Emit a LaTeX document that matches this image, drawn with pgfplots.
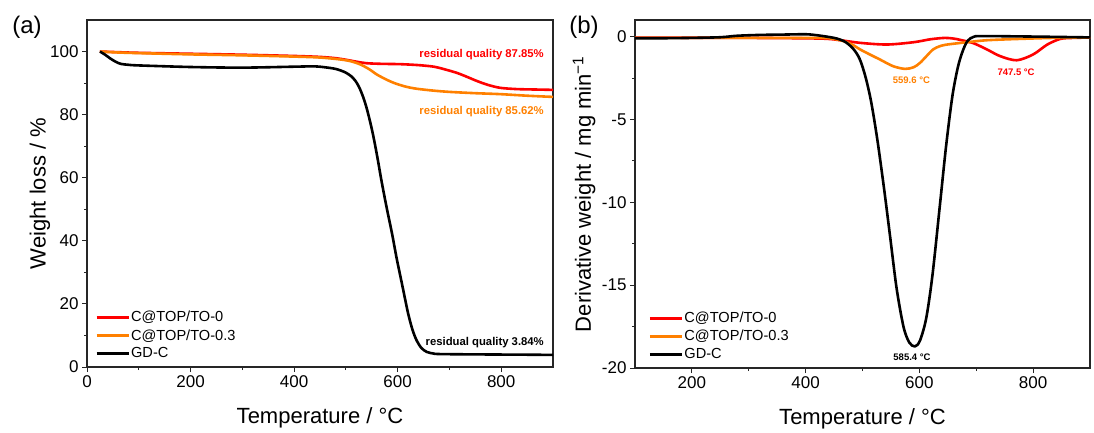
\documentclass[border=0pt]{standalone}
\usepackage{fontspec}
\setmainfont{Liberation Sans}
\usepackage{pgfplots}
\pgfplotsset{compat=1.18}
\definecolor{cred}{RGB}{255,0,0}
\definecolor{corange}{RGB}{255,128,0}
\begin{document}
\begin{tikzpicture}
\path[use as bounding box] (0pt,0pt) rectangle (1094pt,432pt);
\pgfplotsset{
  myaxis/.style={
    scale only axis,
    anchor=south west,
    axis line style={line width=1.1pt, black!85},
    tick style={line width=1pt, black!85},
    tick align=outside,
    xtick pos=bottom, ytick pos=left,
    major tick length=5pt, minor tick length=3pt,
    minor x tick num=1, minor y tick num=1,
    ticklabel style={font=\fontsize{17}{20}\selectfont},
    /pgf/number format/assume math mode=true,
    label style={font=\fontsize{22}{26}\selectfont},
    legend style={draw=none, fill=none, font=\fontsize{14.6}{16}\selectfont, anchor=south west, row sep=4pt, inner sep=0pt, nodes={inner sep=1pt}},
    legend cell align=left,
    legend image code/.code={\draw[##1,line width=3pt] (0pt,0pt) -- (32pt,0pt);},
    every axis plot/.append style={line width=2.6pt, line join=round},
  }
}
\node[font=\fontsize{24}{28}\selectfont] at (27pt,405pt) {(a)};
\node[font=\fontsize{24}{28}\selectfont] at (584pt,405pt) {(b)};
\begin{axis}[myaxis,
  at={(87pt,65pt)}, width=466pt, height=347pt,
  xmin=0, xmax=900, ymin=0, ymax=110,
  xtick={0,200,400,600,800}, ytick={0,20,40,60,80,100},
  xlabel={Temperature / °C}, ylabel={Weight loss / \%},
  xlabel style={at={(axis description cs:0.5,-0.147)}, anchor=center},
  ylabel style={at={(axis description cs:-0.101,0.5)}, anchor=center},
  legend style={at={(0.017,0.019)}},
]
\addplot[cred, smooth] coordinates {
(25,100) (60,99.8) (100,99.6) (200,99.3) (300,99.0) (400,98.6) (450,98.3) (480,97.9) (500,97.4) (520,96.8) (540,96.3) (570,96.1) (605,96.0) (640,95.7) (670,95.2) (690,94.4) (715,93.2) (735,91.9) (754,90.6) (775,89.4) (798,88.5) (830,88.1) (870,87.95) (900,87.85)};
\addlegendentry{C@TOP/TO-0}
\addplot[corange, smooth] coordinates {
(25,100) (60,99.7) (100,99.5) (200,99.1) (300,98.8) (400,98.4) (450,98.1) (489,97.5) (510,96.9) (528,95.9) (545,94.4) (560,92.7) (576,91.3) (592,90.1) (615,88.9) (637,88.2) (670,87.6) (701,87.2) (750,86.8) (798,86.5) (850,86.0) (900,85.62)};
\addlegendentry{C@TOP/TO-0.3}
\addplot[black, smooth] coordinates {
(25,100) (35,99.0) (45,97.8) (55,96.8) (65,96.1) (80,95.8) (100,95.6) (200,95.1) (300,94.9) (400,95.2) (440,95.3) (465,94.9) (480,94.5) (490,94.0) (500,93.3) (510,92.2) (518,90.8) (525,88.9) (532,86.2) (539,82.7) (546,78.3) (553,73.2) (561,66.3) (569,58.8) (579,50.3) (589,42.4) (598,34.5) (608,26.6) (615,21.0) (621,16.4) (629,11.6) (637,8.3) (646,6.0) (656,4.8) (668,4.3) (682,4.1) (750,4.0) (850,3.9) (900,3.84)};
\addlegendentry{GD-C}
\node[anchor=east, text=cred, font=\bfseries\fontsize{11.3}{13}\selectfont] at (axis cs:889,99) {residual quality 87.85\%};
\node[anchor=east, text=corange, font=\bfseries\fontsize{11.3}{13}\selectfont] at (axis cs:889,81) {residual quality 85.62\%};
\node[anchor=east, text=black, font=\bfseries\fontsize{11.3}{13}\selectfont] at (axis cs:889,7.6) {residual quality 3.84\%};
\end{axis}
\begin{axis}[myaxis,
  at={(635pt,64pt)}, width=455pt, height=348pt,
  xmin=100, xmax=900, ymin=-20, ymax=1,
  xtick={200,400,600,800}, ytick={-20,-15,-10,-5,0},
  xlabel={Temperature / °C}, ylabel={Derivative weight / mg min\textsuperscript{−1}},
  xlabel style={at={(axis description cs:0.5,-0.147)}, anchor=center},
  ylabel style={at={(axis description cs:-0.112,0.5)}, anchor=center},
  legend style={at={(0.029,0.019)}},
]
\addplot[cred, smooth] coordinates {
(100,-0.06) (200,-0.07) (300,-0.08) (425,-0.12) (461,-0.22) (496,-0.38) (543,-0.48) (590,-0.34) (620,-0.16) (645,-0.08) (660,-0.12) (672,-0.2) (695,-0.40) (719,-0.78) (742,-1.18) (771,-1.43) (800,-1.08) (825,-0.48) (848,-0.14) (871,-0.08) (900,-0.06)};
\addlegendentry{C@TOP/TO-0}
\addplot[corange, smooth] coordinates {
(100,-0.08) (200,-0.08) (300,-0.08) (425,-0.08) (445,-0.12) (461,-0.22) (480,-0.45) (496,-0.78) (514,-1.1) (531,-1.39) (554,-1.79) (575,-1.95) (590,-1.85) (601,-1.59) (612,-1.2) (624,-0.78) (636,-0.58) (649,-0.48) (684,-0.34) (719,-0.22) (777,-0.14) (836,-0.08) (900,-0.05)};
\addlegendentry{C@TOP/TO-0.3}
\addplot[black, smooth] coordinates {
(100,-0.1) (150,-0.1) (200,-0.08) (250,-0.04) (280,0.05) (320,0.1) (360,0.12) (400,0.14) (420,0.08) (440,-0.02) (455,-0.12) (470,-0.33) (484,-0.75) (495,-1.35) (505,-2.4) (515,-3.9) (526,-6.2) (538,-9.2) (549,-12.2) (560,-15.2) (572,-17.5) (582,-18.45) (592,-18.7) (601,-18.35) (612,-17.0) (623,-14.4) (636,-10.2) (647,-6.6) (658,-3.6) (668,-1.8) (677,-0.8) (685,-0.25) (695,-0.02) (710,0.03) (800,0.0) (900,-0.05)};
\addlegendentry{GD-C}
\node[text=corange, font=\bfseries\fontsize{9.5}{11}\selectfont] at (axis cs:586,-2.65) {559.6 °C};
\node[text=cred, font=\bfseries\fontsize{9.5}{11}\selectfont] at (axis cs:770,-2.17) {747.5 °C};
\node[text=black, font=\bfseries\fontsize{9.5}{11}\selectfont] at (axis cs:587,-19.34) {585.4 °C};
\end{axis}
\end{tikzpicture}
\end{document}
